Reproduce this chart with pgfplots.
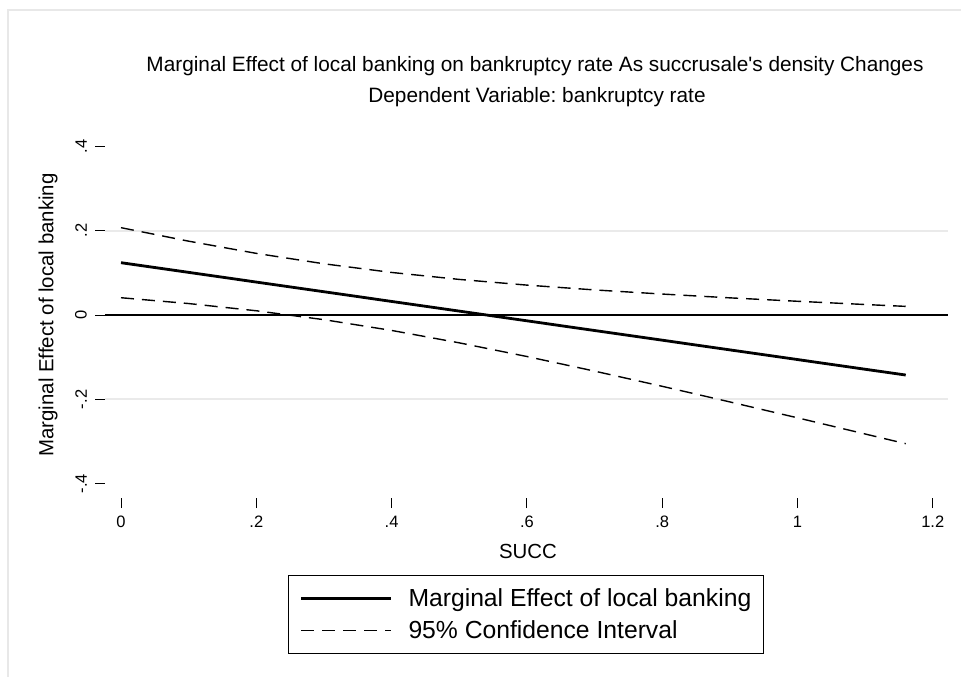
\documentclass[border=0pt]{standalone}
\usepackage{pgfplots}
\pgfplotsset{compat=1.18}
\usepackage{fontspec}
\setmainfont{Liberation Sans}[Ligatures=TeXOff]
\frenchspacing

\pgfplotstableread{
x     me       lo       hi
0     0.1240   0.0410   0.2070
0.1   0.1011   0.0272   0.1750
0.2   0.0781   0.0101   0.1461
0.3   0.0552  -0.0110   0.1214
0.4   0.0322  -0.0365   0.1009
0.5   0.0093  -0.0659   0.0844
0.6  -0.0137  -0.0983   0.0709
0.7  -0.0367  -0.1329   0.0595
0.8  -0.0596  -0.1689   0.0497
0.9  -0.0826  -0.2059   0.0407
1.0  -0.1055  -0.2436   0.0326
1.1  -0.1285  -0.2819   0.0249
1.16 -0.1422  -0.3049   0.0205
}\effect

\definecolor{gridgray}{RGB}{234,234,234}
\definecolor{framegray}{RGB}{232,232,232}

\begin{document}
\begin{tikzpicture}
\useasboundingbox (0pt,0pt) rectangle (961pt,-677pt);
\draw[framegray, line width=1.5pt] (8pt,-677pt) -- (8pt,-10pt) -- (961pt,-10pt);

\begin{axis}[
  at={(105pt,-498pt)}, anchor=south west,
  scale only axis,
  width=843pt, height=363pt,
  xmin=-0.02365, xmax=1.2225,
  ymin=-0.4336, ymax=0.4266,
  axis line style={draw=none},
  tick align=outside,
  major tick length=10pt,
  tick style={black, line width=0.9pt},
  xtick={0,0.2,0.4,0.6,0.8,1,1.2},
  xticklabels={0,.2,.4,.6,.8,1,1.2},
  ytick={-0.4,-0.2,0,0.2,0.4},
  yticklabels={-.4,-.2,0,.2,.4},
  xtick pos=bottom, ytick pos=left,
  ticklabel style={font=\fontsize{16.5}{18}\selectfont},
  yticklabel style={rotate=90, anchor=south, inner sep=0pt},
  yticklabel shift=8pt,
  xticklabel style={inner sep=0pt},
  xticklabel shift=8pt,
  clip=false,
  legend style={at={(0.4994,-0.321)}, anchor=center,
    draw=black, line width=0.9pt,
    font=\fontsize{24.7}{28}\selectfont,
    inner xsep=11pt, inner ysep=12pt,
    nodes={inner sep=1pt},
    row sep=11pt,
    /tikz/every odd column/.append style={column sep=15pt}},
  legend cell align=left,
  legend image code/.code={\draw[#1] (0pt,0pt) -- (90pt,0pt);},
]
\draw[gridgray, line width=2pt] (axis cs:-0.02365,0.2) -- (axis cs:1.2225,0.2);
\draw[gridgray, line width=2pt] (axis cs:-0.02365,-0.2) -- (axis cs:1.2225,-0.2);
\draw[black, line width=2.6pt] (axis cs:-0.02365,0) -- (axis cs:1.2225,0);
\addplot[black, line width=2.8pt] table[x=x, y=me] {\effect};
\addlegendentry{Marginal Effect of local banking}
\addplot[black, line width=1.4pt, dash pattern=on 13pt off 8pt] table[x=x, y=lo] {\effect};
\addlegendentry{95\% Confidence Interval}
\addplot[black, line width=1.4pt, dash pattern=on 13pt off 8pt, forget plot] table[x=x, y=hi] {\effect};
\end{axis}

\node[font=\fontsize{20.8}{24}\selectfont] at (535pt,-66pt) {Marginal Effect of local banking on bankruptcy rate As succrusale's density Changes};
\node[font=\fontsize{20.8}{24}\selectfont] at (537pt,-97pt) {Dependent Variable: bankruptcy rate};
\node[font=\fontsize{20.4}{24}\selectfont] at (528pt,-551pt) {SUCC};
\node[font=\fontsize{20.4}{24}\selectfont, rotate=90] at (48pt,-315pt) {Marginal Effect of local banking};
\end{tikzpicture}
\end{document}
